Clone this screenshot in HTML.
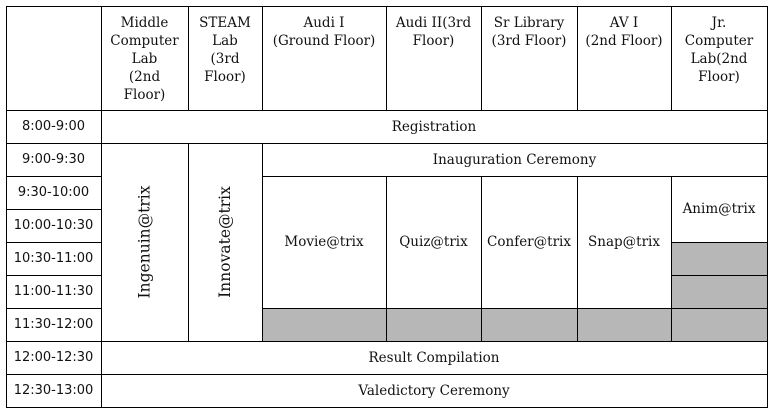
<!DOCTYPE html>
<html><head><meta charset="utf-8"><style>
body{margin:0;width:773px;height:415px;background:#fff;position:relative;overflow:hidden}
.c{position:absolute;box-sizing:border-box;border:1px solid #000;margin:-0.5px 0 0 -0.5px;display:flex;align-items:center;justify-content:center;text-align:center;font-family:"DejaVu Serif","Liberation Serif",serif;font-size:13.5px;line-height:18px;color:#111;background:#fff}
.t{font-family:"DejaVu Sans","Liberation Sans",sans-serif;font-size:13px}
.g{background:#b7b7b7}
.h{align-items:flex-start;padding-top:7px;font-size:13.5px}
.v span{transform:rotate(-90deg);white-space:nowrap;font-size:15.5px;display:block}
</style></head><body>
<div class="c" style="left:6px;top:6px;width:96px;height:105px"></div>
<div class="c h" style="left:101px;top:6px;width:88px;height:105px">Middle<br>Computer<br>Lab<br>(2nd<br>Floor)</div>
<div class="c h" style="left:188px;top:6px;width:75px;height:105px">STEAM<br>Lab<br>(3rd<br>Floor)</div>
<div class="c h" style="left:262px;top:6px;width:125px;height:105px">Audi I<br>(Ground Floor)</div>
<div class="c h" style="left:386px;top:6px;width:96px;height:105px">Audi II(3rd<br>Floor)</div>
<div class="c h" style="left:481px;top:6px;width:97px;height:105px">Sr Library<br>(3rd Floor)</div>
<div class="c h" style="left:577px;top:6px;width:95px;height:105px">AV I<br>(2nd Floor)</div>
<div class="c h" style="left:671px;top:6px;width:97px;height:105px">Jr.<br>Computer<br>Lab(2nd<br>Floor)</div>

<div class="c t" style="left:6px;top:110px;width:96px;height:34px">8:00-9:00</div>
<div class="c t" style="left:6px;top:143px;width:96px;height:34px">9:00-9:30</div>
<div class="c t" style="left:6px;top:176px;width:96px;height:34px">9:30-10:00</div>
<div class="c t" style="left:6px;top:209px;width:96px;height:34px">10:00-10:30</div>
<div class="c t" style="left:6px;top:242px;width:96px;height:34px">10:30-11:00</div>
<div class="c t" style="left:6px;top:275px;width:96px;height:34px">11:00-11:30</div>
<div class="c t" style="left:6px;top:308px;width:96px;height:34px">11:30-12:00</div>
<div class="c t" style="left:6px;top:341px;width:96px;height:34px">12:00-12:30</div>
<div class="c t" style="left:6px;top:374px;width:96px;height:34px">12:30-13:00</div>

<div class="c" style="left:101px;top:110px;width:667px;height:34px">Registration</div>
<div class="c v" style="left:101px;top:143px;width:88px;height:199px"><span>Ingenuin@trix</span></div>
<div class="c v" style="left:188px;top:143px;width:75px;height:199px"><span>Innovate@trix</span></div>
<div class="c" style="left:262px;top:143px;width:506px;height:34px">Inauguration Ceremony</div>
<div class="c" style="left:262px;top:176px;width:125px;height:133px">Movie@trix</div>
<div class="c" style="left:386px;top:176px;width:96px;height:133px">Quiz@trix</div>
<div class="c" style="left:481px;top:176px;width:97px;height:133px">Confer@trix</div>
<div class="c" style="left:577px;top:176px;width:95px;height:133px">Snap@trix</div>
<div class="c" style="left:671px;top:176px;width:97px;height:67px">Anim@trix</div>
<div class="c g" style="left:671px;top:242px;width:97px;height:34px"></div>
<div class="c g" style="left:671px;top:275px;width:97px;height:34px"></div>
<div class="c g" style="left:262px;top:308px;width:125px;height:34px"></div>
<div class="c g" style="left:386px;top:308px;width:96px;height:34px"></div>
<div class="c g" style="left:481px;top:308px;width:97px;height:34px"></div>
<div class="c g" style="left:577px;top:308px;width:95px;height:34px"></div>
<div class="c g" style="left:671px;top:308px;width:97px;height:34px"></div>
<div class="c" style="left:101px;top:341px;width:667px;height:34px">Result Compilation</div>
<div class="c" style="left:101px;top:374px;width:667px;height:34px">Valedictory Ceremony</div>
</body></html>
